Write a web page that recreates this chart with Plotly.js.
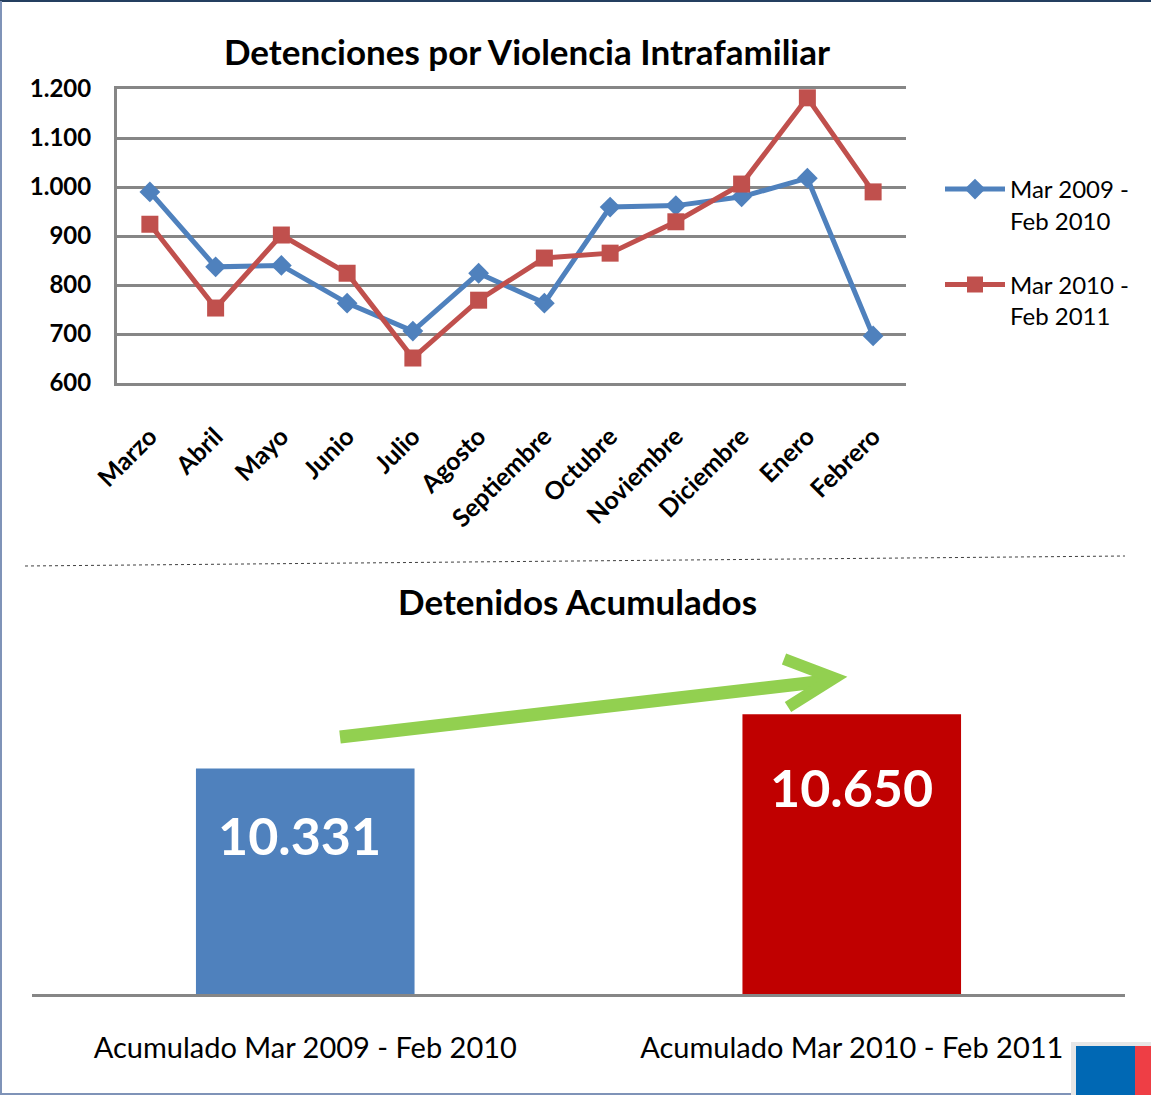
<!DOCTYPE html>
<html>
<head>
<meta charset="utf-8">
<script src="https://cdn.plot.ly/plotly-3.0.1.min.js"></script>
<style>
html,body{margin:0;padding:0;background:#fff;}
#chart{width:1151px;height:1095px;}
</style>
</head>
<body>
<div id="chart"></div>
<script>
// ---- data ----
const months = ["Marzo","Abril","Mayo","Junio","Julio","Agosto","Septiembre","Octubre","Noviembre","Diciembre","Enero","Febrero"];
const serie2009 = [990, 837, 840, 763, 706, 824, 763, 959, 962, 980, 1018, 696];
const serie2010 = [924, 753, 902, 824, 651, 769, 855, 865, 929, 1006, 1182, 990];
const seriesNames = ["Mar 2009 -<br>Feb 2010", "Mar 2010 -<br>Feb 2011"];
const accumCategories = ["Acumulado Mar 2009 - Feb 2010", "Acumulado Mar 2010 - Feb 2011"];
const accumValues = [10331, 10650];
const yTicks = [600, 700, 800, 900, 1000, 1100, 1200];

// ---- helpers ----
const W = 1151, H = 1095;
const px = x => x / W;
const py = y => 1 - y / H;
const fmt = v => String(v).replace(/\B(?=(\d{3})+(?!\d))/g, ".");
const FONT = "Lato, 'Open Sans', sans-serif";
const BLUE = "#4F81BD", RED = "#C0504D", GRID = "#868686";

const traces = [
  {
    x: months, y: serie2009, type: "scatter", mode: "lines+markers",
    name: seriesNames[0], legendgroup: "a",
    line: {color: BLUE, width: 5},
    marker: {symbol: "diamond", size: 16, color: BLUE},
    xaxis: "x", yaxis: "y", cliponaxis: false
  },
  {
    x: months, y: serie2010, type: "scatter", mode: "lines+markers",
    name: seriesNames[1], legendgroup: "b",
    line: {color: RED, width: 5},
    marker: {symbol: "square", size: 17, color: RED},
    xaxis: "x", yaxis: "y", cliponaxis: false
  },
  {
    x: accumCategories, y: accumValues, type: "bar",
    marker: {color: [BLUE, "#C00000"]},
    showlegend: false, hoverinfo: "skip",
    xaxis: "x2", yaxis: "y2"
  }
];

const labelShiftY = [-67, -73];
const labelShiftX = [-6, 0];
const annotations = accumValues.map((v, i) => ({
  x: accumCategories[i], y: v, xref: "x2", yref: "y2",
  text: fmt(v), showarrow: false, yanchor: "middle",
  yshift: labelShiftY[i], xshift: labelShiftX[i],
  font: {family: FONT, size: 52, color: "#ffffff", weight: "bold"}
}));
annotations.push({
  x: px(577), y: py(601), xref: "paper", yref: "paper",
  text: "Detenidos Acumulados", showarrow: false,
  xanchor: "center", yanchor: "middle",
  font: {family: FONT, size: 35, color: "#000", weight: "bold"}
});

const shapes = [
  // page border
  {type: "line", xref: "paper", yref: "paper", x0: 0, x1: 1, y0: py(1), y1: py(1), line: {color: "#243F60", width: 2}},
  {type: "line", xref: "paper", yref: "paper", x0: px(1), x1: px(1), y0: py(1), y1: py(1094), line: {color: "#7F93B8", width: 2}},
  {type: "line", xref: "paper", yref: "paper", x0: 0, x1: 1, y0: py(1094), y1: py(1094), line: {color: "#7F93B8", width: 2}},
  // dotted separator
  {type: "line", xref: "paper", yref: "paper", x0: px(25), y0: py(566), x1: px(1125), y1: py(556), line: {color: "#404040", width: 1, dash: "dot"}},
  // green arrow
  {type: "line", xref: "paper", yref: "paper", x0: px(340), y0: py(737), x1: px(826), y1: py(681), line: {color: "#92D050", width: 13}},
  {type: "path", xref: "paper", yref: "paper",
   path: `M ${px(784)},${py(659)} L ${px(834)},${py(678)} L ${px(788)},${py(707)}`,
   line: {color: "#92D050", width: 12}},
  // flag in corner
  {type: "rect", xref: "paper", yref: "paper", x0: px(1071), x1: px(1151), y0: py(1095), y1: py(1042), fillcolor: "#E6E6E6", line: {width: 0}},
  {type: "rect", xref: "paper", yref: "paper", x0: px(1076), x1: px(1135), y0: py(1095), y1: py(1046), fillcolor: "#0068B4", line: {width: 0}},
  {type: "rect", xref: "paper", yref: "paper", x0: px(1135), x1: px(1151), y0: py(1095), y1: py(1046), fillcolor: "#EE3E45", line: {width: 0}}
];

const layout = {
  width: W, height: H,
  margin: {l: 0, r: 0, t: 0, b: 0},
  paper_bgcolor: "#fff", plot_bgcolor: "rgba(0,0,0,0)",
  separators: ",.",
  font: {family: FONT, color: "#000"},
  title: {
    text: "Detenciones por Violencia Intrafamiliar",
    x: px(527), y: py(53), xanchor: "center", yanchor: "middle",
    font: {family: FONT, size: 35, color: "#000", weight: "bold"}
  },
  xaxis: {
    domain: [px(117), px(906)], anchor: "y", type: "category",
    range: [-0.5, 11.5],
    tickangle: -45, ticks: "", showgrid: false,
    showline: true, mirror: true, linecolor: GRID, linewidth: 3,
    tickfont: {family: FONT, size: 25, color: "#000", weight: "bold"},
    ticklabelstandoff: 26
  },
  yaxis: {
    domain: [py(383), py(89)], anchor: "x",
    range: [600, 1200], tickvals: yTicks, tickformat: ",d",
    showgrid: true, gridcolor: GRID, gridwidth: 3,
    showline: true, linecolor: GRID, linewidth: 3,
    zeroline: false, ticks: "",
    tickfont: {family: FONT, size: 24, color: "#000", weight: "bold"},
    ticklabelstandoff: 18
  },
  xaxis2: {
    domain: [px(32), px(1125)], anchor: "y2", type: "category",
    showline: true, linecolor: GRID, linewidth: 3, ticks: "", showgrid: false,
    tickfont: {family: FONT, size: 29, color: "#000"},
    ticklabelstandoff: 26
  },
  yaxis2: {
    domain: [py(994), py(655)], anchor: "x2",
    range: [9000, 11000], visible: false, showgrid: false, zeroline: false
  },
  bargap: 0.6,
  showlegend: true,
  legend: {
    x: px(940), y: py(167), xanchor: "left", yanchor: "top",
    bgcolor: "rgba(0,0,0,0)", itemwidth: 60, valign: "top",
    traceorder: "grouped", tracegroupgap: 30,
    font: {family: FONT, size: 24, color: "#000"}
  },
  annotations: annotations,
  shapes: shapes
};

Plotly.newPlot("chart", traces, layout, {displayModeBar: false, staticPlot: true});
</script>
</body>
</html>
